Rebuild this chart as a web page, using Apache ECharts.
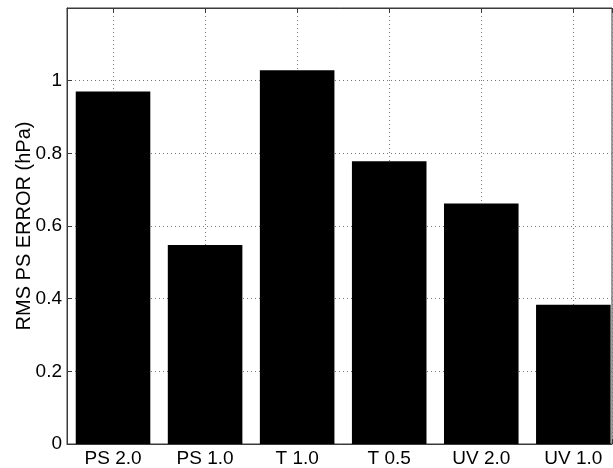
<!DOCTYPE html>
<html>
<head>
<meta charset="utf-8">
<script src="https://cdn.jsdelivr.net/npm/echarts@6/dist/echarts.min.js"></script>
<style>
html,body{margin:0;padding:0;background:#fff;}
#chart{width:613px;height:468px;}
</style>
</head>
<body>
<div id="chart"></div>
<script>
var categories = ['PS 2.0', 'PS 1.0', 'T 1.0', 'T 0.5', 'UV 2.0', 'UV 1.0'];
var rmsError = [0.970, 0.548, 1.029, 0.778, 0.662, 0.383];
var yTicks = [0, 0.2, 0.4, 0.6, 0.8, 1];
var yLabel = 'RMS PS ERROR (hPa)';

var barData = rmsError.map(function (v, i) { return [i + 1, v]; });
function catLabel(v) {
  var r = Math.round(v);
  if (Math.abs(v - r) < 1e-6 && r >= 1 && r <= categories.length) return categories[r - 1];
  return '';
}

var chart = echarts.init(document.getElementById('chart'), null, {renderer: 'canvas'});
var font = 'Liberation Sans, Arial, Helvetica, sans-serif';
var frame = '#3a3a3a';
var gridLine = {show: true, lineStyle: {type: [1, 3], color: '#777', width: 1}};
chart.setOption({
  animation: false,
  backgroundColor: '#fff',
  grid: {left: 67, top: 8, width: 545, height: 436, outerBoundsMode: 'none', containLabel: false,
         show: true, borderColor: frame, borderWidth: 1, backgroundColor: 'transparent'},
  xAxis: [{
    type: 'value',
    min: 0.5,
    max: 6.42,
    splitNumber: 6,
    position: 'bottom',
    axisLine: {show: true, lineStyle: {color: frame, width: 1}},
    axisTick: {show: true, inside: true, length: 5, lineStyle: {color: frame}},
    axisLabel: {fontFamily: font, fontSize: 19, color: '#000', margin: 5, formatter: catLabel, showMinLabel: true, showMaxLabel: true},
    splitLine: gridLine
  }, {
    type: 'value',
    min: 0.5,
    max: 6.42,
    splitNumber: 6,
    position: 'top',
    axisLine: {show: true, lineStyle: {color: frame, width: 1}},
    axisTick: {show: true, inside: true, length: 5, lineStyle: {color: frame}},
    axisLabel: {show: false},
    splitLine: {show: false}
  }],
  yAxis: {
    type: 'value',
    min: 0,
    max: 1.2,
    interval: 0.2,
    name: yLabel,
    nameLocation: 'middle',
    nameGap: 33,
    nameMoveOverlap: false,
    nameTextStyle: {fontFamily: font, fontSize: 20, color: '#000'},
    axisLine: {show: true, lineStyle: {color: frame, width: 1}},
    axisTick: {show: true, inside: true, length: 5, lineStyle: {color: frame}},
    axisLabel: {
      fontFamily: font, fontSize: 19, color: '#000', margin: 5,
      formatter: function (v) {
        for (var i = 0; i < yTicks.length; i++) {
          if (Math.abs(yTicks[i] - v) < 1e-9) return String(yTicks[i]);
        }
        return '';
      }
    },
    splitLine: gridLine
  },
  series: [{
    type: 'bar',
    data: barData,
    barWidth: '81%',
    itemStyle: {color: '#000'}
  }]
});
</script>
</body>
</html>
